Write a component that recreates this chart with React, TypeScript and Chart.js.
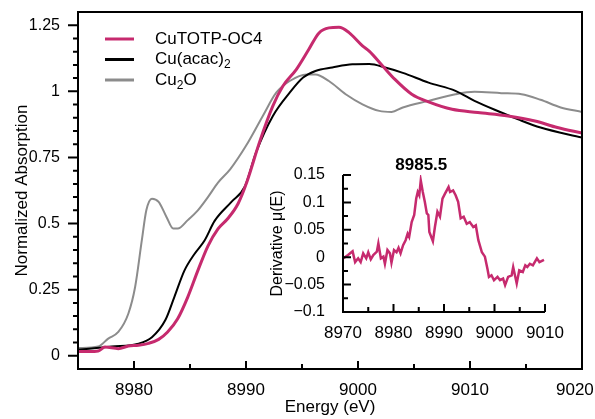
import React, { useEffect, useRef } from "react";
import { Chart, registerables } from "chart.js";

Chart.register(...registerables);

const FONT = "'Liberation Sans', Arial, Helvetica, sans-serif";

// ---------- Main XANES spectra ----------
const cutotpEnergy = [8975.0, 8976.0, 8976.8, 8977.4, 8978.6, 8979.5, 8980.4, 8981.3, 8982.2, 8983.0, 8983.9, 8984.8, 8985.7, 8986.6, 8987.5, 8988.4, 8989.3, 8990.1, 8991.2, 8992.4, 8993.3, 8994.5, 8995.6, 8996.5, 8997.4, 8998.3, 8999.2, 9000.4, 9001.0, 9002.2, 9003.3, 9004.8, 9006.3, 9008.4, 9010.7, 9013.4, 9015.8, 9017.8, 9020.0];
const cutotpAbs = [0.016, 0.016, 0.018, 0.033, 0.027, 0.037, 0.040, 0.047, 0.062, 0.090, 0.140, 0.222, 0.322, 0.415, 0.480, 0.520, 0.576, 0.660, 0.807, 0.945, 1.020, 1.083, 1.158, 1.220, 1.240, 1.242, 1.222, 1.172, 1.152, 1.096, 1.045, 0.989, 0.960, 0.932, 0.920, 0.907, 0.888, 0.863, 0.842];

const acacEnergy = [8975.0, 8978.0, 8980.4, 8981.6, 8982.8, 8983.6, 8984.5, 8985.4, 8986.3, 8987.2, 8988.7, 8989.9, 8990.9, 8992.4, 8993.9, 8995.1, 8996.2, 8997.7, 8999.5, 9001.0, 9002.5, 9004.0, 9006.3, 9008.7, 9010.4, 9012.8, 9014.3, 9016.3, 9020.0];
const acacAbs = [0.023, 0.035, 0.046, 0.070, 0.135, 0.222, 0.322, 0.385, 0.436, 0.510, 0.582, 0.640, 0.769, 0.907, 0.995, 1.052, 1.077, 1.090, 1.102, 1.103, 1.089, 1.070, 1.033, 1.002, 0.964, 0.920, 0.894, 0.863, 0.825];

const cu2oEnergy = [8975.0, 8976.8, 8977.7, 8978.6, 8979.5, 8980.1, 8980.7, 8981.1, 8981.6, 8982.2, 8982.9, 8983.5, 8983.9, 8984.8, 8985.7, 8986.6, 8987.5, 8988.6, 8990.0, 8991.5, 8992.7, 8993.9, 8995.4, 8996.2, 8997.4, 8998.9, 9000.4, 9001.9, 9003.0, 9004.0, 9006.3, 9008.7, 9010.4, 9012.8, 9014.6, 9016.3, 9018.1, 9020.0];
const cu2oAbs = [0.029, 0.035, 0.065, 0.090, 0.160, 0.260, 0.437, 0.550, 0.594, 0.582, 0.525, 0.481, 0.481, 0.513, 0.550, 0.600, 0.655, 0.706, 0.794, 0.907, 0.995, 1.039, 1.064, 1.064, 1.039, 0.989, 0.951, 0.926, 0.922, 0.939, 0.964, 0.989, 0.998, 0.993, 0.989, 0.968, 0.939, 0.922];

const seriesLabels = ["CuTOTP-OC4", "Cu(acac)₂", "Cu₂O"];
const seriesColors = ["#c62a6e", "#000000", "#8c8c8c"];
const seriesWidths = [3, 2, 2];

const mainXTicks = [8980, 8990, 9000, 9010, 9020];
const mainXTickLabels = ["8980", "8990", "9000", "9010", "9020"];
const mainXMinor = [8985, 8995, 9005, 9015];
const mainYTicks = [0, 0.25, 0.5, 0.75, 1, 1.25];
const mainYTickLabels = ["0", "0.25", "0.5", "0.75", "1", "1.25"];
const mainYMinor = [0.05, 0.1, 0.15, 0.2, 0.3, 0.35, 0.4, 0.45, 0.55, 0.6, 0.65, 0.7, 0.8, 0.85, 0.9, 0.95, 1.05, 1.1, 1.15, 1.2];

// ---------- Inset: derivative ----------
const derivEnergy = [8970.1, 8971.0, 8971.9, 8972.4, 8973.0, 8973.5, 8974.0, 8974.6, 8975.0, 8975.5, 8976.0, 8976.7, 8977.0, 8977.5, 8978.0, 8978.3, 8978.8, 8979.3, 8979.6, 8980.1, 8980.6, 8981.0, 8981.4, 8981.9, 8982.4, 8982.8, 8983.1, 8983.6, 8984.1, 8984.5, 8984.8, 8985.1, 8985.4, 8985.8, 8986.2, 8986.6, 8986.9, 8987.1, 8987.8, 8988.2, 8988.7, 8989.2, 8989.7, 8990.2, 8990.9, 8991.2, 8991.8, 8992.3, 8992.8, 8993.3, 8993.9, 8994.5, 8995.1, 8995.8, 8996.3, 8996.8, 8997.5, 8998.1, 8998.6, 8998.9, 8999.4, 8999.9, 9000.6, 9001.1, 9001.7, 9002.1, 9002.7, 9003.4, 9003.7, 9004.4, 9004.9, 9005.6, 9006.1, 9006.5, 9007.0, 9007.6, 9008.4, 9008.9, 9009.8];
const derivValue = [-0.002, 0.004, 0.011, -0.009, -0.002, -0.009, 0.007, -0.002, 0.009, -0.004, 0.004, 0.010, 0.025, -0.002, 0.001, -0.012, 0.013, 0.007, -0.010, 0.013, 0.009, 0.017, 0.007, 0.022, 0.031, 0.043, 0.037, 0.064, 0.077, 0.107, 0.119, 0.113, 0.140, 0.119, 0.101, 0.080, 0.077, 0.046, 0.029, 0.055, 0.083, 0.074, 0.107, 0.116, 0.128, 0.119, 0.122, 0.113, 0.101, 0.071, 0.074, 0.061, 0.064, 0.055, 0.058, 0.031, 0.009, 0.001, -0.021, -0.036, -0.033, -0.042, -0.036, -0.042, -0.039, -0.051, -0.036, -0.033, -0.018, -0.048, -0.024, -0.027, -0.015, -0.018, -0.012, -0.015, -0.002, -0.009, -0.005];

const insetXTicks = [8970, 8980, 8990, 9000, 9010];
const insetXTickLabels = ["8970", "8980", "8990", "9000", "9010"];
const insetXMinor = [8975, 8985, 8995, 9005];
const insetYTicks = [-0.1, -0.05, 0, 0.05, 0.1, 0.15];
const insetYTickLabels = ["−0.1", "−0.05", "0", "0.05", "0.1", "0.15"];
const insetYMinor = [-0.075, -0.025, 0.025, 0.075, 0.125];
const peakEnergy = 8985.5;
const peakLabel = "8985.5";

type TickSpec = { axis: string; values: number[]; len: number; dir: "in" | "out" };

function drawTicks(chart: any, specs: TickSpec[]) {
  const ctx = chart.ctx;
  const { left, bottom } = chart.chartArea;
  ctx.save();
  ctx.strokeStyle = "#000";
  ctx.lineWidth = 2;
  ctx.beginPath();
  for (const s of specs) {
    const scale = chart.scales[s.axis];
    for (const v of s.values) {
      const p = scale.getPixelForValue(v);
      if (s.axis === "x") {
        ctx.moveTo(p, bottom);
        ctx.lineTo(p, s.dir === "in" ? bottom - s.len : bottom + s.len);
      } else {
        ctx.moveTo(left, p);
        ctx.lineTo(s.dir === "in" ? left + s.len : left - s.len, p);
      }
    }
  }
  ctx.stroke();
  ctx.restore();
}

function drawRichLabel(ctx: any, text: string, x: number, y: number, size: number) {
  let cx = x;
  const parts = text.split(/(₂)/);
  for (const part of parts) {
    if (!part) continue;
    if (part === "₂") {
      ctx.font = `${Math.round(size * 0.7)}px ${FONT}`;
      ctx.fillText("2", cx, y + size * 0.32);
      cx += ctx.measureText("2").width;
    } else {
      ctx.font = `${size}px ${FONT}`;
      ctx.fillText(part, cx, y);
      cx += ctx.measureText(part).width;
    }
  }
}

const mainDecor = {
  id: "mainDecor",
  afterDraw(chart: any) {
    const ctx = chart.ctx;
    const { left, right, top, bottom } = chart.chartArea;
    ctx.save();
    ctx.strokeStyle = "#000";
    ctx.lineWidth = 2;
    ctx.strokeRect(left, top, right - left, bottom - top);
    ctx.restore();
    drawTicks(chart, [
      { axis: "x", values: mainXTicks.slice(0, -1), len: 8, dir: "in" },
      { axis: "x", values: mainXMinor, len: 5, dir: "in" },
      { axis: "y", values: mainYTicks, len: 10, dir: "out" },
      { axis: "y", values: mainYMinor, len: 5, dir: "out" },
    ]);
    // legend
    ctx.save();
    ctx.textBaseline = "middle";
    chart.data.datasets.forEach((ds: any, i: number) => {
      const y = top + 27 + i * 20.5;
      ctx.strokeStyle = ds.borderColor;
      ctx.lineWidth = 3;
      ctx.beginPath();
      ctx.moveTo(left + 27, y);
      ctx.lineTo(left + 56, y);
      ctx.stroke();
      ctx.fillStyle = "#000";
      drawRichLabel(ctx, ds.label, left + 77, y, 17);
    });
    ctx.restore();
  },
};

const insetDecor = {
  id: "insetDecor",
  afterDraw(chart: any) {
    const ctx = chart.ctx;
    const { left, right, top, bottom } = chart.chartArea;
    ctx.save();
    ctx.strokeStyle = "#000";
    ctx.lineWidth = 2;
    ctx.beginPath();
    ctx.moveTo(left, top);
    ctx.lineTo(left, bottom);
    ctx.lineTo(right, bottom);
    ctx.stroke();
    ctx.restore();
    drawTicks(chart, [
      { axis: "x", values: insetXTicks, len: 8, dir: "in" },
      { axis: "x", values: insetXMinor, len: 5, dir: "in" },
      { axis: "y", values: insetYTicks, len: 8, dir: "in" },
      { axis: "y", values: insetYMinor, len: 5, dir: "in" },
    ]);
    ctx.save();
    ctx.fillStyle = "#000";
    ctx.font = `bold 17px ${FONT}`;
    ctx.textAlign = "center";
    ctx.textBaseline = "middle";
    ctx.fillText(peakLabel, chart.scales.x.getPixelForValue(peakEnergy), top - 10);
    ctx.restore();
  },
};

function toPoints(xs: number[], ys: number[]) {
  return xs.map((x, i) => ({ x, y: ys[i] }));
}

function fixX(height: number) {
  return (s: any) => {
    s.height = height;
    s.paddingLeft = 0;
    s.paddingRight = 0;
    s.paddingTop = 0;
    s.paddingBottom = 0;
  };
}
function fixY(width: number) {
  return (s: any) => {
    s.width = width;
    s.paddingLeft = 0;
    s.paddingRight = 0;
    s.paddingTop = 0;
    s.paddingBottom = 0;
  };
}

export default function App() {
  const mainRef = useRef<HTMLCanvasElement | null>(null);
  const insetRef = useRef<HTMLCanvasElement | null>(null);

  useEffect(() => {
    const energies = [cutotpEnergy, acacEnergy, cu2oEnergy];
    const values = [cutotpAbs, acacAbs, cu2oAbs];
    const main = new Chart(mainRef.current as HTMLCanvasElement, {
      type: "line",
      data: {
        datasets: seriesLabels.map((label, i) => ({
          label,
          data: toPoints(energies[i], values[i]),
          borderColor: seriesColors[i],
          backgroundColor: seriesColors[i],
          borderWidth: seriesWidths[i],
          pointRadius: 0,
          cubicInterpolationMode: "monotone" as const,
          fill: false,
        })),
      },
      options: {
        animation: false,
        responsive: false,
        devicePixelRatio: 1,
        events: [],
        layout: { padding: { top: 12, right: 13, left: 0, bottom: 0 } },
        plugins: { legend: { display: false }, tooltip: { enabled: false } },
        scales: {
          x: {
            type: "linear",
            min: 8975,
            max: 9020,
            afterBuildTicks: (s: any) => {
              s.ticks = mainXTicks.map((v) => ({ value: v }));
            },
            afterFit: fixX(50),
            grid: { display: false },
            border: { display: false },
            ticks: {
              color: "#000",
              font: { size: 17, family: FONT },
              padding: 3,
              maxRotation: 0,
              autoSkip: false,
              // last label sits at the canvas edge; pad it so it is not clipped
              callback: (_v: any, i: number) =>
                i === mainXTickLabels.length - 1 ? mainXTickLabels[i] + "   " : mainXTickLabels[i],
            },
            title: {
              display: true,
              text: "Energy (eV)",
              color: "#000",
              font: { size: 17, family: FONT },
              padding: { top: 0, bottom: 1 },
            },
          },
          y: {
            type: "linear",
            min: -0.05,
            max: 1.3,
            afterBuildTicks: (s: any) => {
              s.ticks = mainYTicks.map((v) => ({ value: v }));
            },
            afterFit: fixY(78),
            grid: { display: false },
            border: { display: false },
            ticks: {
              color: "#000",
              font: { size: 16, family: FONT },
              padding: 10,
              autoSkip: false,
              callback: (_v: any, i: number) => mainYTickLabels[i],
            },
            title: {
              display: true,
              text: "Normalized Absorption",
              color: "#000",
              font: { size: 17, family: FONT },
              padding: { top: 12, bottom: 0 },
            },
          },
        },
      },
      plugins: [mainDecor],
    });

    const inset = new Chart(insetRef.current as HTMLCanvasElement, {
      type: "line",
      data: {
        datasets: [
          {
            label: "Derivative",
            data: toPoints(derivEnergy, derivValue),
            borderColor: seriesColors[0],
            backgroundColor: seriesColors[0],
            borderWidth: 2.5,
            pointRadius: 0,
            tension: 0,
            fill: false,
          },
        ],
      },
      options: {
        animation: false,
        responsive: false,
        devicePixelRatio: 1,
        events: [],
        layout: { padding: { top: 25, right: 30, left: 0, bottom: 0 } },
        plugins: { legend: { display: false }, tooltip: { enabled: false } },
        scales: {
          x: {
            type: "linear",
            min: 8970,
            max: 9010,
            afterBuildTicks: (s: any) => {
              s.ticks = insetXTicks.map((v) => ({ value: v }));
            },
            afterFit: fixX(28),
            grid: { display: false },
            border: { display: false },
            ticks: {
              color: "#000",
              font: { size: 17, family: FONT },
              padding: 3,
              maxRotation: 0,
              autoSkip: false,
              callback: (_v: any, i: number) => insetXTickLabels[i],
            },
          },
          y: {
            type: "linear",
            min: -0.1,
            max: 0.15,
            afterBuildTicks: (s: any) => {
              s.ticks = insetYTicks.map((v) => ({ value: v }));
            },
            afterFit: fixY(88),
            grid: { display: false },
            border: { display: false },
            ticks: {
              color: "#000",
              font: { size: 16, family: FONT },
              padding: 10,
              autoSkip: false,
              callback: (_v: any, i: number) => insetYTickLabels[i],
            },
            title: {
              display: true,
              text: "Derivative μ(E)",
              color: "#000",
              font: { size: 16, family: FONT },
              padding: { top: 13, bottom: 0 },
            },
          },
        },
      },
      plugins: [insetDecor],
    });

    return () => {
      main.destroy();
      inset.destroy();
    };
  }, []);

  return (
    <div style={{ position: "absolute", left: 0, top: 0, width: 595, height: 419, background: "#fff" }}>
      <canvas ref={mainRef} width={595} height={419} style={{ position: "absolute", left: 0, top: 0 }} />
      <canvas ref={insetRef} width={320} height={190} style={{ position: "absolute", left: 255, top: 150 }} />
    </div>
  );
}
